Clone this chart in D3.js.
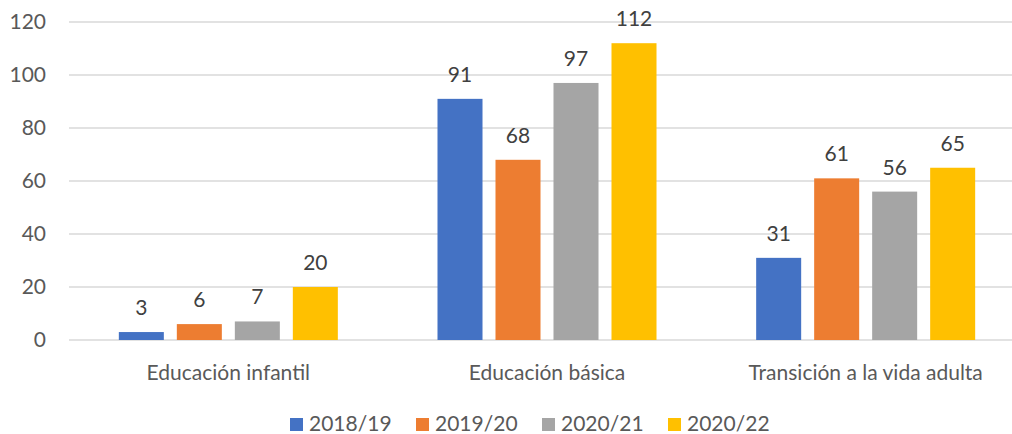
<!DOCTYPE html>
<html>
<head>
<meta charset="utf-8">
<script src="https://cdn.jsdelivr.net/npm/d3@7"></script>
<style>
  body { margin: 0; background: #fff; }
  svg { display: block; font-family: Lato, "Open Sans", sans-serif; }
</style>
</head>
<body>
<div id="chart"></div>
<script>
// chart data
var categories = ["Educación infantil", "Educación básica", "Transición a la vida adulta"];
var seriesNames = ["2018/19", "2019/20", "2020/21", "2020/22"];
var values2018 = [3, 91, 31];
var values2019 = [6, 68, 61];
var values2020 = [7, 97, 56];
var values2021 = [20, 112, 65];
var yTicks = [0, 20, 40, 60, 80, 100, 120];
var colors = ["#4472C4", "#ED7D31", "#A5A5A5", "#FFC000"];

var allValues = [values2018, values2019, values2020, values2021];

var width = 1012, height = 434;
var margin = { top: 22, left: 69, right: -13, bottom: 94 };
var fontSize = "21px";

var svg = d3.select("#chart")
    .append("svg")
    .attr("width", width)
    .attr("height", height);

// scales
var x0 = d3.scaleBand()
    .domain(categories)
    .range([margin.left, width - margin.right]);

var groupWidth = 232;
var x1 = d3.scaleBand()
    .domain(seriesNames)
    .range([0, groupWidth])
    .paddingInner(0.224)
    .paddingOuter(0.112);

var y = d3.scaleLinear()
    .domain([0, 120])
    .range([height - margin.bottom, margin.top]);

// gridlines
svg.append("g")
    .selectAll("line")
    .data(yTicks)
    .enter()
    .append("line")
    .attr("x1", margin.left)
    .attr("x2", width)
    .attr("y1", d => y(d))
    .attr("y2", d => y(d))
    .attr("stroke", "#D9D9D9")
    .attr("stroke-width", 1.5);

// y axis labels
var yAxis = d3.axisLeft(y).tickValues(yTicks).tickSize(0).tickPadding(0);
var yg = svg.append("g")
    .attr("transform", "translate(46,0)")
    .call(yAxis);
yg.select(".domain").remove();
yg.selectAll("text")
    .attr("fill", "#595959")
    .attr("font-size", fontSize)
    .attr("font-family", "Lato, sans-serif");

// bars
var groups = svg.selectAll(".grp")
    .data(categories)
    .enter()
    .append("g")
    .attr("class", "grp")
    .attr("transform", d => "translate(" + (x0(d) + (x0.bandwidth() - groupWidth) / 2) + ",0)");

groups.each(function(cat, ci) {
    var g = d3.select(this);
    var rows = seriesNames.map(function(s, si) {
        return { series: s, value: allValues[si][ci], color: colors[si] };
    });

    g.selectAll("rect")
        .data(rows)
        .enter()
        .append("rect")
        .attr("x", d => x1(d.series))
        .attr("y", d => y(d.value))
        .attr("width", x1.bandwidth())
        .attr("height", d => y(0) - y(d.value))
        .attr("fill", d => d.color);

    g.selectAll("text")
        .data(rows)
        .enter()
        .append("text")
        .attr("x", d => x1(d.series) + x1.bandwidth() / 2)
        .attr("y", d => y(d.value) - 17)
        .attr("text-anchor", "middle")
        .attr("font-size", fontSize)
        .attr("fill", "#404040")
        .text(d => d.value);
});

// x axis labels
var xAxis = d3.axisBottom(x0).tickSize(0).tickPadding(0);
var xg = svg.append("g")
    .attr("transform", "translate(0," + (y(0) + 33) + ")")
    .call(xAxis);
xg.select(".domain").remove();
xg.selectAll("text")
    .attr("fill", "#595959")
    .attr("font-size", fontSize)
    .attr("font-family", "Lato, sans-serif")
    .attr("dy", "0.35em");

// legend
var legend = svg.append("g")
    .selectAll("g")
    .data(seriesNames)
    .enter()
    .append("g")
    .attr("transform", (d, i) => "translate(" + (290 + i * 126) + ",418)");

legend.append("rect")
    .attr("width", 13)
    .attr("height", 13)
    .attr("fill", (d, i) => colors[i]);

legend.append("text")
    .attr("x", 19)
    .attr("y", 13)
    .attr("font-size", fontSize)
    .attr("fill", "#595959")
    .text(d => d);
</script>
</body>
</html>
